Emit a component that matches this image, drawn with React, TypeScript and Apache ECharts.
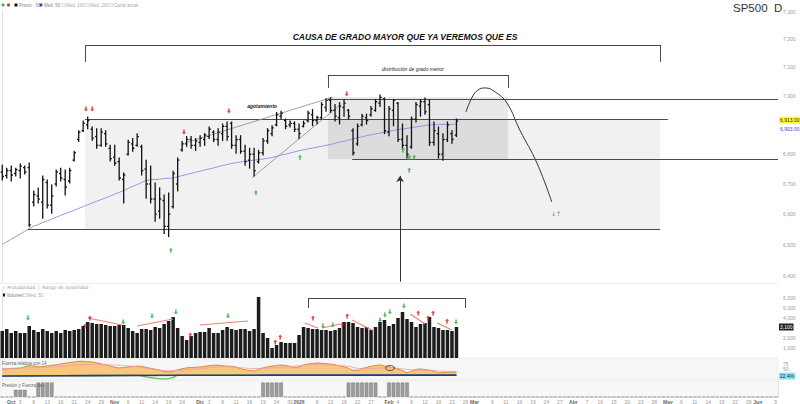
import React, { useEffect, useRef } from "react";
import * as echarts from "echarts";

// ---------- categories ----------
const START_DATE = "2025-09-29";
const HOLIDAYS = ["2025-11-27", "2025-12-25", "2026-01-01", "2026-01-19", "2026-02-16", "2026-04-03", "2026-05-25"];
const SLOT_COUNT = 173;
const MONTHS = ["Ene", "Feb", "Mar", "Abr", "May", "Jun", "Jul", "Ago", "Sep", "Oct", "Nov", "Dic"];

// ---------- price (OHLC) ----------
const opens = [6740, 6728, 6745, 6735, 6745, 6755, 6755, 6640, 6660, 6640, 6705, 6630, 6700, 6735, 6715, 6710, 6780, 6850, 6880, 6900, 6885, 6860, 6830, 6870, 6820, 6790, 6775, 6715, 6800, 6835, 6830, 6825, 6750, 6700, 6650, 6610, 6645, 6560, 6625, 6700, 6815, 6835, 6850, 6830, 6840, 6850, 6860, 6875, 6850, 6870, 6895, 6905, 6830, 6850, 6810, 6780, 6800, 6775, 6805, 6845, 6870, 6900, 6930, 6915, 6900, 6905, 6885, 6895, 6915, 6935, 6915, 6925, 6960, 6985, 6950, 6925, 6960, 6950, 6880, 6835, 6900, 6925, 6935, 6950, 6975, 6990, 6875, 6950, 6975, 6850, 6830, 6825, 6920, 6965, 6980, 6970, 6840, 6870, 6800, 6850, 6870, 6865];
const closes = [6725, 6745, 6730, 6748, 6760, 6740, 6565, 6665, 6650, 6715, 6630, 6660, 6740, 6720, 6690, 6745, 6805, 6875, 6905, 6915, 6855, 6830, 6875, 6835, 6785, 6770, 6720, 6730, 6840, 6820, 6860, 6745, 6700, 6650, 6600, 6650, 6560, 6600, 6735, 6780, 6835, 6850, 6830, 6845, 6855, 6865, 6885, 6850, 6875, 6895, 6860, 6830, 6850, 6810, 6775, 6800, 6745, 6805, 6845, 6880, 6890, 6935, 6940, 6895, 6905, 6885, 6870, 6905, 6940, 6915, 6925, 6970, 6985, 6950, 6930, 6965, 6975, 6930, 6805, 6895, 6930, 6915, 6955, 6980, 6995, 6880, 6955, 6985, 6850, 6830, 6800, 6920, 6970, 6980, 6945, 6840, 6880, 6800, 6850, 6900, 6850, 6913];
const lows = [6713, 6720, 6710, 6727, 6720, 6733, 6560, 6627, 6637, 6587, 6620, 6603, 6693, 6710, 6663, 6703, 6777, 6843, 6877, 6887, 6847, 6820, 6827, 6827, 6777, 6763, 6713, 6637, 6797, 6810, 6827, 6730, 6653, 6637, 6577, 6587, 6537, 6527, 6620, 6677, 6810, 6827, 6820, 6813, 6827, 6830, 6853, 6843, 6830, 6847, 6847, 6820, 6803, 6803, 6763, 6753, 6727, 6770, 6797, 6837, 6863, 6897, 6920, 6887, 6893, 6877, 6853, 6893, 6910, 6897, 6903, 6920, 6947, 6943, 6913, 6903, 6930, 6920, 6797, 6830, 6897, 6903, 6930, 6947, 6963, 6870, 6863, 6897, 6843, 6820, 6787, 6820, 6910, 6930, 6937, 6830, 6830, 6787, 6780, 6843, 6837, 6860];
const highs = [6763, 6753, 6760, 6753, 6767, 6760, 6770, 6677, 6687, 6727, 6713, 6697, 6747, 6753, 6747, 6753, 6810, 6880, 6913, 6927, 6893, 6887, 6887, 6880, 6830, 6830, 6787, 6737, 6847, 6853, 6870, 6830, 6780, 6760, 6703, 6687, 6663, 6670, 6743, 6787, 6843, 6860, 6860, 6853, 6863, 6870, 6893, 6880, 6887, 6903, 6910, 6910, 6863, 6863, 6830, 6820, 6820, 6813, 6853, 6887, 6897, 6943, 6947, 6920, 6913, 6910, 6903, 6913, 6947, 6953, 6930, 6977, 6990, 6993, 6970, 6977, 6987, 6953, 6887, 6903, 6937, 6937, 6963, 6987, 7003, 6993, 6963, 6987, 6977, 6903, 6863, 6927, 6977, 6987, 6993, 6987, 6910, 6893, 6870, 6910, 6880, 6920];
const movingAverage = [6501, 6510, 6518, 6527, 6535, 6544, 6553, 6561, 6566, 6573, 6578, 6584, 6590, 6596, 6602, 6607, 6613, 6619, 6625, 6631, 6637, 6643, 6648, 6654, 6660, 6666, 6672, 6678, 6685, 6692, 6698, 6705, 6712, 6714, 6715, 6716, 6718, 6719, 6720, 6724, 6728, 6732, 6735, 6739, 6743, 6747, 6750, 6754, 6758, 6762, 6765, 6769, 6771, 6774, 6776, 6778, 6780, 6782, 6784, 6786, 6789, 6793, 6797, 6800, 6804, 6808, 6812, 6815, 6818, 6821, 6824, 6827, 6830, 6833, 6837, 6841, 6844, 6848, 6852, 6856, 6859, 6863, 6866, 6869, 6872, 6875, 6878, 6881, 6884, 6886, 6888, 6891, 6893, 6895, 6898, 6900, 6901, 6901, 6902, 6902, 6902, 6903];
const priceTicks = [6400, 6500, 6600, 6700, 6800, 7000, 7100, 7200, 7300];
const priceSellMarks = [[18.6, 6955], [20.0, 6955], [40.4, 6876], [50.4, 6948], [76.6, 7007]];
const priceBuyMarks = [[37.5, 6483], [56.4, 6672], [66.2, 6790], [89.1, 6814], [90.5, 6790], [91.6, 6790], [90.5, 6747]];
const projection = [[103.1, 6944], [104.5, 6996], [105.8, 7021], [107.4, 7028], [109.6, 7014], [112.2, 6976], [115.1, 6882], [118.9, 6770], [122.2, 6640]];

// ---------- volume ----------
const volumes = [2700, 2900, 2500, 2700, 2500, 2500, 3200, 2800, 2600, 2900, 2700, 2500, 2700, 2500, 2800, 2700, 2800, 2900, 3200, 3600, 3500, 3400, 3400, 3300, 3200, 3200, 3300, 3300, 3000, 2700, 2500, 2900, 2900, 2800, 3100, 3000, 3400, 3700, 4100, 3000, 2200, 1800, 2200, 2500, 2600, 2600, 3000, 2500, 2500, 2800, 3100, 2900, 2800, 2900, 2900, 2700, 2900, 6100, 2500, 2000, 1000, 1300, 1600, 1500, 1500, 1500, 2300, 3100, 3000, 2900, 2900, 2800, 2800, 2700, 2800, 3000, 3600, 3600, 3500, 3100, 3000, 3100, 2800, 3100, 3600, 3800, 3200, 3400, 4000, 4600, 3900, 3600, 3100, 3400, 3500, 4100, 3100, 3000, 2800, 2800, 2700, 3100];
const volumeTicks = [1000, 2000, 4000, 5000, 6000];
const volumeSellMarks = [[18.4, 3200], [19.5, 4000], [41.8, 2300], [60.7, 1600], [61.8, 2100], [69.1, 4000], [75.6, 3300], [76.7, 4200], [92.5, 4500], [94.7, 4000], [95.8, 4500], [98.9, 3700]];
const volumeBuyMarks = [[5.7, 4000], [26.9, 3600], [33.3, 4200], [38.6, 4600], [50.2, 4200], [71.3, 3200], [73.5, 3300], [84.0, 3800], [85.1, 4300], [86.2, 4600], [89.3, 5200], [100.9, 3600]];
const volumeTrends = [
  [[19.07, 4000], [26.6, 3300]], [[29.97, 3200], [37.97, 3900]], [[43.97, 3300], [54.65, 3700]],
  [[67.3, 3500], [70.2, 3000]], [[71.1, 3000], [75.1, 3400]], [[77.8, 3800], [82.2, 2800]],
  [[90.7, 4400], [94.0, 3400]], [[96.7, 3500], [100.0, 2800]],
];

// ---------- oscillator ----------
const oscillator = [50, 51, 52, 53, 54, 60, 66, 64, 60, 61, 64, 67, 69, 73, 76, 79, 82, 85, 85, 83, 82, 78, 73, 69, 63, 58, 55, 57, 59, 61, 63, 62, 57, 53, 49, 45, 40, 37, 41, 46, 51, 55, 57, 58, 59, 62, 65, 67, 67, 65, 63, 62, 58, 52, 46, 43, 41, 49, 55, 60, 63, 66, 68, 66, 62, 57, 60, 68, 73, 75, 77, 76, 74, 72, 69, 64, 60, 53, 44, 44, 52, 57, 62, 66, 68, 64, 60, 56, 49, 43, 34, 40, 48, 50, 47, 45, 41, 33, 34, 35, 36, 37];
const signalLine = [[0, 52], [10, 58], [20, 70], [25, 68], [30, 60], [37, 42], [42, 48], [50, 60], [56, 52], [62, 58], [70, 70], [77, 62], [80, 50], [86, 56], [90, 48], [96, 42], [101, 38]];
const baseLine = [[0, 18], [20, 20], [60, 22], [101, 22]];
const momentumLine = [[0, 18], [30, 21], [32, 14], [34, 8], [36, 5], [37, 6], [38, 12], [39, 21], [60, 22], [101, 22]];

// ---------- pressure blocks [fromIndex, toIndex, value] ----------
const pressureBlocks = [[3, 5, 0.45], [8, 11, 0.9], [58, 62, 0.9], [77, 83, 0.9], [86, 90, 0.9]];

function buildDates(start: string, count: number, holidays: string[]) {
  const out: string[] = [];
  const d = new Date(start + "T00:00:00Z");
  while (out.length < count) {
    const dow = d.getUTCDay();
    const s = d.toISOString().slice(0, 10);
    if (dow !== 0 && dow !== 6 && holidays.indexOf(s) < 0) out.push(s);
    d.setUTCDate(d.getUTCDate() + 1);
  }
  return out;
}

function buildOption() {
  const dates = buildDates(START_DATE, SLOT_COUNT, HOLIDAYS);
  const isMonthStart = (i: number) =>
    i > 0 && i < dates.length && dates[i].slice(5, 7) !== dates[i - 1].slice(5, 7);
  const pressure = dates.map(() => 0);
  pressureBlocks.forEach(([a, b, v]) => {
    for (let i = a; i <= b; i++) pressure[i] = v;
  });
  const fmt = (v: number) => Math.round(v).toLocaleString("en-US");
  const arrowUp = "path://M5,0L10,5L7,5L7,10L3,10L3,5L0,5Z";
  const font = "Liberation Sans";
  const seg = (a: number[], b: number[], style?: any) => [
    { coord: a, lineStyle: style },
    { coord: b },
  ];
  const gray = { color: "#4a4a4a", width: 1, type: "solid" };
  const thin = { color: "#8a8a8a", width: 0.8, type: "solid" };
  const red = { color: "#f07f7f", width: 1.2, type: "solid" };
  const invisible = { color: "rgba(0,0,0,0)", width: 0, opacity: 1 };

  const lastClose = closes[closes.length - 1];
  const lastMA = movingAverage[movingAverage.length - 1];
  const lastVol = volumes[volumes.length - 1];

  const hiddenValueX = (g: number) => ({
    type: "value", gridIndex: g, min: -0.5, max: SLOT_COUNT - 0.5, show: false,
  });
  const rightAxis = (extra: any) => ({
    position: "right",
    axisLine: { show: true, lineStyle: { color: "#e2e2e2", width: 1 } },
    axisTick: { show: false },
    splitLine: { show: false },
    ...extra,
  });
  const endLabel = (text: string, bg: string, color: string, offset: number[]) => ({
    show: true, position: "end", distance: 1, offset, formatter: text,
    backgroundColor: bg, color, fontSize: 5, padding: [1, 1], opacity: 1,
  });

  return {
    animation: false,
    backgroundColor: "#ffffff",
    textStyle: { fontFamily: font },
    grid: [
      { left: 0, top: 10, width: 778, height: 272 },
      { left: 0, top: 289, width: 778, height: 69 },
      { left: 0, top: 358, width: 778, height: 22, show: true, backgroundColor: "#f6f6f6", borderColor: "#e2e2e2", borderWidth: 0.5 },
      { left: 0, top: 381, width: 778, height: 17, show: true, backgroundColor: "#f8f8f8", borderColor: "#e6e6e6", borderWidth: 0.5 },
    ],
    xAxis: [
      hiddenValueX(0),
      hiddenValueX(1),
      hiddenValueX(2),
      {
        type: "category", gridIndex: 3, data: dates, boundaryGap: true,
        axisLine: { show: false }, axisTick: { show: false },
        axisLabel: {
          fontSize: 5, color: "#9a9a9a", margin: 2,
          interval: (i: number) => isMonthStart(i) || (i % 3 === 1 && !isMonthStart(i + 1) && !isMonthStart(i - 1)),
          formatter: (value: string, index: number) => {
            const parts = String(value).split("-");
            if (parts.length < 3) return "";
            if (isMonthStart(index)) return "{b|" + (parts[1] === "01" ? parts[0] : MONTHS[+parts[1] - 1]) + "}";
            return String(+parts[2]);
          },
          rich: { b: { fontSize: 5, fontWeight: "bold", color: "#666" } },
        },
      },
    ],
    yAxis: [
      rightAxis({
        type: "log", logBase: 10, gridIndex: 0, min: 6381, max: 7306,
        axisLabel: { customValues: priceTicks, fontSize: 5, color: "#9a9a9a", margin: 5, formatter: (v: number) => fmt(v) },
      }),
      rightAxis({
        type: "value", gridIndex: 1, min: 0, max: 6900,
        axisLabel: { customValues: volumeTicks, fontSize: 5, color: "#9a9a9a", margin: 5, formatter: (v: number) => fmt(v) },
      }),
      rightAxis({
        type: "value", gridIndex: 2, min: 0, max: 100,
        axisLabel: { customValues: [50, 75], fontSize: 5, color: "#9a9a9a", margin: 5 },
      }),
      rightAxis({
        type: "value", gridIndex: 3, min: 0, max: 1,
        axisLabel: { show: false },
      }),
    ],
    series: [
      {
        type: "line", name: "anotaciones", xAxisIndex: 0, yAxisIndex: 0, z: 2,
        data: projection, smooth: 0.45, symbol: "none",
        lineStyle: { color: "#333", width: 1 },
        markArea: {
          silent: true,
          data: [
            [{ coord: [18.4, 6551.6], itemStyle: { color: "rgba(0,0,0,0.055)" } }, { coord: [146.3, 6920] }],
            [{ coord: [72.4, 6784], itemStyle: { color: "rgba(0,0,0,0.085)" } }, { coord: [112.5, 6996.5] }],
          ],
        },
        markLine: {
          silent: true, symbol: ["none", "none"], label: { show: false },
          lineStyle: { type: "solid" },
          data: [
            seg([18.4, 6920], [148.0, 6920], gray),
            seg([5.73, 6551.6], [146.3, 6551.6], gray),
            seg([72.4, 6989.6], [172.5, 6989.6], gray),
            seg([77.8, 6784], [172.5, 6784], gray),
            seg([40.6, 6838], [73.5, 6996], thin),
            seg([55.5, 6720], [75.1, 6968.6], thin),
            seg([18.4, 7119.5], [18.4, 7180], gray),
            seg([18.4, 7180], [146.3, 7180], gray),
            seg([146.3, 7180], [146.3, 7119.5], gray),
            seg([72.4, 7028], [72.4, 7073.6], gray),
            seg([72.4, 7073.6], [112.5, 7073.6], gray),
            seg([112.5, 7073.6], [112.5, 7028], gray),
            [
              { coord: [88.45, 6382], symbol: "none", lineStyle: { color: "#333", width: 1, type: "solid" } },
              { coord: [88.45, 6727], symbol: "arrow", symbolSize: 6 },
            ],
          ],
        },
      },
      {
        type: "line", name: "Med. 50", xAxisIndex: 0, yAxisIndex: 0, z: 4,
        data: movingAverage.map((v, i) => [i, v]), symbol: "none",
        lineStyle: { color: "#9498e3", width: 1 },
        markLine: {
          silent: true, symbol: ["none", "none"], lineStyle: invisible,
          data: [
            { yAxis: lastClose, lineStyle: invisible, label: endLabel(lastClose.toLocaleString("en-US", { minimumFractionDigits: 2 }), "#ffff2e", "#222", [0, -1]) },
            { yAxis: lastMA, lineStyle: invisible, label: endLabel(lastMA.toLocaleString("en-US", { minimumFractionDigits: 2 }), "transparent", "#3a3fc4", [0, 5]) },
          ],
        },
      },
      {
        type: "custom", name: "Precio", xAxisIndex: 0, yAxisIndex: 0, z: 5,
        data: opens.map((o, i) => [i, o, closes[i], lows[i], highs[i]]),
        encode: { x: 0, y: [1, 2, 3, 4] },
        renderItem: (params: any, api: any) => {
          const x = api.value(0);
          const o = api.coord([x, api.value(1)]);
          const c = api.coord([x, api.value(2)]);
          const l = api.coord([x, api.value(3)]);
          const h = api.coord([x, api.value(4)]);
          const t = 1.7;
          const style = { stroke: "#111", lineWidth: 1.3 };
          return {
            type: "group",
            children: [
              { type: "line", shape: { x1: h[0], y1: h[1] - 0.5, x2: l[0], y2: l[1] + 0.5 }, style },
              { type: "line", shape: { x1: o[0] - t, y1: o[1], x2: o[0], y2: o[1] }, style },
              { type: "line", shape: { x1: c[0], y1: c[1], x2: c[0] + t, y2: c[1] }, style },
            ],
          };
        },
      },
      {
        type: "scatter", xAxisIndex: 0, yAxisIndex: 0, z: 6, data: priceSellMarks,
        symbol: arrowUp, symbolRotate: 180, symbolSize: [4, 5], itemStyle: { color: "#e02020" },
      },
      {
        type: "scatter", xAxisIndex: 0, yAxisIndex: 0, z: 6, data: priceBuyMarks,
        symbol: arrowUp, symbolSize: [4, 5], itemStyle: { color: "#2fae3a" },
      },
      {
        type: "bar", name: "Volumen", xAxisIndex: 1, yAxisIndex: 1, z: 3,
        data: volumes.map((v, i) => [i, v]), barWidth: 3.5,
        itemStyle: { color: "#1c1c1c" },
        markLine: {
          silent: true, symbol: ["none", "none"], label: { show: false },
          data: [
            ...volumeTrends.map(([a, b]) => seg(a, b, red)),
            seg([68.0, 5000], [68.0, 6000], gray),
            seg([68.0, 6000], [102.9, 6000], gray),
            seg([102.9, 6000], [102.9, 5000], gray),
            { yAxis: lastVol, lineStyle: invisible, label: endLabel(fmt(lastVol), "#222", "#fff", [0, 0]) },
          ],
        },
      },
      {
        type: "scatter", xAxisIndex: 1, yAxisIndex: 1, z: 6, data: volumeSellMarks,
        symbol: arrowUp, symbolSize: [4, 5], itemStyle: { color: "#e02020" },
      },
      {
        type: "scatter", xAxisIndex: 1, yAxisIndex: 1, z: 6, data: volumeBuyMarks,
        symbol: arrowUp, symbolRotate: 180, symbolSize: [4, 5], itemStyle: { color: "#2fae3a" },
      },
      {
        type: "line", xAxisIndex: 2, yAxisIndex: 2, z: 2,
        data: oscillator.map((v, i) => [i, v]), symbol: "none", smooth: 0.3,
        lineStyle: { color: "#d9892f", width: 1 },
        areaStyle: { color: "#f8c67c", origin: 22, opacity: 1 },
      },
      {
        type: "line", xAxisIndex: 2, yAxisIndex: 2, z: 3,
        data: signalLine, symbol: "none", smooth: 0.4,
        lineStyle: { color: "#eea0a6", width: 0.8 },
      },
      {
        type: "line", xAxisIndex: 2, yAxisIndex: 2, z: 3,
        data: momentumLine, symbol: "none", smooth: 0.4,
        lineStyle: { color: "#55c955", width: 1.3 },
      },
      {
        type: "line", xAxisIndex: 2, yAxisIndex: 2, z: 4,
        data: baseLine, symbol: "none", smooth: 0.4,
        lineStyle: { color: "#2a3689", width: 1.6 },
        markLine: {
          silent: true, symbol: ["none", "none"], lineStyle: invisible,
          data: [{ yAxis: 22, lineStyle: invisible, label: endLabel("22.4%", "#8be6f2", "#135", [0, 1]) }],
        },
      },
      {
        type: "bar", xAxisIndex: 3, yAxisIndex: 3,
        data: pressure, barWidth: 3.6,
        itemStyle: { color: "#9c9c9c", borderColor: "#6a6a6a", borderWidth: 0.4 },
      },
    ],
    graphic: [
      { type: "rect", shape: { x: 0, y: 283, width: 778, height: 0.6 }, style: { fill: "#dcdcdc" }, silent: true },
      { type: "circle", shape: { cx: 3, cy: 5, r: 1.6 }, style: { fill: "#3bb54a" } },
      { type: "circle", shape: { cx: 8.5, cy: 5, r: 1.6 }, style: { fill: "#e03030" } },
      { type: "rect", shape: { x: 14.5, y: 3.5, width: 3, height: 3 }, style: { fill: "#111" } },
      { type: "text", x: 19, y: 5, style: { text: "Precio · 50", fontSize: 4.5, fill: "#888", verticalAlign: "middle", fontFamily: font } },
      { type: "circle", shape: { cx: 41, cy: 5, r: 1.6 }, style: { fill: "#3c3fd0" } },
      { type: "text", x: 44, y: 5, style: { text: "Med. 50", fontSize: 4.5, fill: "#888", verticalAlign: "middle", fontFamily: font } },
      { type: "rect", shape: { x: 62, y: 3.5, width: 3, height: 3 }, style: { fill: "#fff", stroke: "#bbb", lineWidth: 0.5 } },
      { type: "text", x: 66, y: 5, style: { text: "Med. 100", fontSize: 4.5, fill: "#aaa", verticalAlign: "middle", fontFamily: font } },
      { type: "rect", shape: { x: 86, y: 3.5, width: 3, height: 3 }, style: { fill: "#fff", stroke: "#bbb", lineWidth: 0.5 } },
      { type: "text", x: 90, y: 5, style: { text: "Med. 200", fontSize: 4.5, fill: "#aaa", verticalAlign: "middle", fontFamily: font } },
      { type: "rect", shape: { x: 110, y: 3.5, width: 3, height: 3 }, style: { fill: "#fff", stroke: "#bbb", lineWidth: 0.5 } },
      { type: "text", x: 114, y: 5, style: { text: "Canal anual", fontSize: 4.5, fill: "#aaa", verticalAlign: "middle", fontFamily: font } },
      { type: "text", x: 733, y: 2, style: { text: "SP500  D", fontSize: 11.5, fill: "#333", fontFamily: font } },
      { type: "text", x: 405, y: 37, style: { text: "CAUSA DE GRADO MAYOR QUE YA VEREMOS QUE ES", fontSize: 8.5, fontWeight: "bold", fontStyle: "italic", fill: "#111", align: "center", verticalAlign: "middle", fontFamily: font } },
      { type: "text", x: 413, y: 69, style: { text: "distribución de grado menor", fontSize: 5, fontStyle: "italic", fill: "#222", align: "center", verticalAlign: "middle", fontFamily: font } },
      { type: "text", x: 262, y: 106, style: { text: "agotamiento", fontSize: 5, fontStyle: "italic", fontWeight: "bold", fill: "#222", align: "center", verticalAlign: "middle", fontFamily: font } },
      { type: "text", x: 556, y: 213, style: { text: "↓↑", fontSize: 6, fill: "#6a9a6a", align: "center", verticalAlign: "middle", fontFamily: "DejaVu Sans" } },
      { type: "text", x: 2, y: 287, style: { text: "✓ Probabilidad  |  Rango de volatilidad", fontSize: 4.5, fill: "#999", verticalAlign: "middle", fontFamily: "DejaVu Sans" } },
      { type: "rect", shape: { x: 2, y: 293.5, width: 3, height: 3 }, style: { fill: "#111" } },
      { type: "text", x: 6.5, y: 295, style: { text: "Volumen", fontSize: 4.5, fill: "#777", verticalAlign: "middle", fontFamily: font } },
      { type: "rect", shape: { x: 23, y: 293.5, width: 3, height: 3 }, style: { fill: "#fff", stroke: "#bbb", lineWidth: 0.5 } },
      { type: "text", x: 27, y: 295, style: { text: "Med. 50", fontSize: 4.5, fill: "#aaa", verticalAlign: "middle", fontFamily: font } },
      { type: "text", x: 2, y: 363, z: 10, style: { text: "Fuerza relativa con 14", fontSize: 4.5, fill: "#666", verticalAlign: "middle", fontFamily: font } },
      { type: "ellipse", z: 10, shape: { cx: 390, cy: 368, rx: 4.5, ry: 2.6 }, style: { fill: "none", stroke: "#222", lineWidth: 0.7 } },
      { type: "text", x: 2, y: 385, z: 10, style: { text: "Presión y Fuerza dev.", fontSize: 4.5, fill: "#666", verticalAlign: "middle", fontFamily: font } },
    ],
  };
}

export default function App() {
  const ref = useRef<HTMLDivElement>(null);
  useEffect(() => {
    const chart = echarts.init(ref.current as HTMLDivElement, null, { renderer: "svg" });
    chart.setOption(buildOption() as any);
    return () => chart.dispose();
  }, []);
  return (
    <div
      ref={ref}
      style={{ position: "fixed", left: 0, top: 0, width: 800, height: 404, background: "#fff" }}
    />
  );
}
